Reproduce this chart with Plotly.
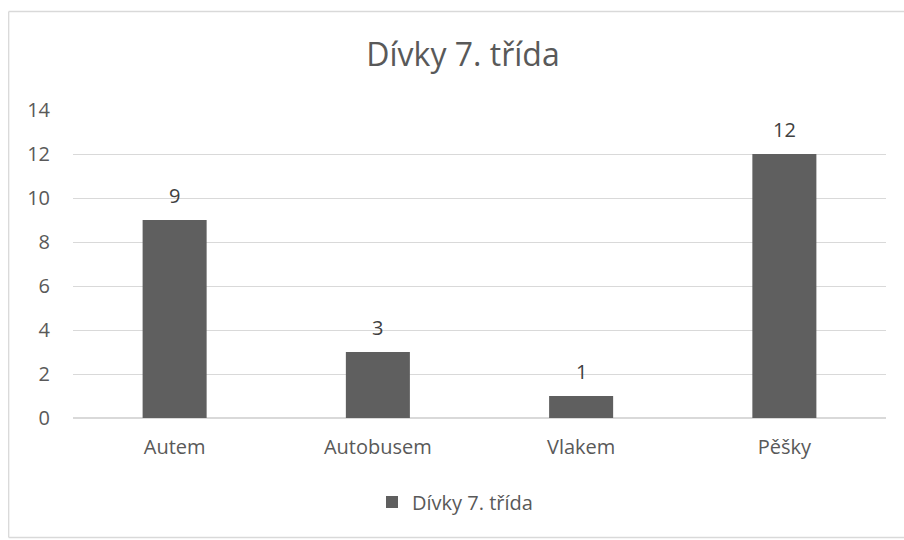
import plotly.graph_objects as go

categories = ["Autem", "Autobusem", "Vlakem", "Pěšky"]
values = [9, 3, 1, 12]
series_name = "Dívky 7. třída"
title_text = "Dívky 7. třída"
y_ticks = [0, 2, 4, 6, 8, 10, 12, 14]

W, H = 904, 540
OFF = 0  # body margin removed via post_script
L, R, T, B = 73 - OFF, W - 886 + OFF, 110 - OFF, H - 418 + OFF
pw, ph = W - L - R, H - T - B

def px_x(x):
    return (x - OFF - L) / pw

def px_y(y):
    return (H - B - (y - OFF)) / ph

FONT = "Open Sans, Noto Sans, sans-serif"
GREY = "#595959"
BAR = "#5f5f5f"
BORDER = "#d9d9d9"

fig = go.Figure()
fig.add_trace(go.Bar(
    x=categories, y=values, name=series_name,
    marker=dict(color=BAR, line=dict(width=0)),
    width=0.315, showlegend=True,
))

annotations = [
    dict(x=c, y=v, xref="x", yref="y", text=str(v), showarrow=False,
         yanchor="middle", yshift=25, font=dict(family=FONT, size=20, color="#404040"))
    for c, v in zip(categories, values)
]

bx0, bx1, by0, by1 = px_x(8.7), px_x(960), px_y(537.5), px_y(11.5)
border_line = dict(color=BORDER, width=1.3)
shapes = [
    dict(type="line", xref="paper", yref="paper", x0=bx0, x1=bx0, y0=by0, y1=by1, line=border_line, layer="below"),
    dict(type="line", xref="paper", yref="paper", x0=bx0, x1=bx1, y0=by1, y1=by1, line=border_line, layer="below"),
    dict(type="line", xref="paper", yref="paper", x0=bx0, x1=bx1, y0=by0, y1=by0, line=border_line, layer="below"),
]

fig.update_layout(
    width=W, height=H,
    margin=dict(l=L, r=R, t=T, b=B, pad=0),
    paper_bgcolor="white", plot_bgcolor="white",
    title=dict(text=title_text, x=px_x(463), xanchor="center", xref="paper",
               y=1 - (55 - OFF) / H, yanchor="middle", yref="container",
               font=dict(family=FONT, size=32, color=GREY)),
    font=dict(family=FONT, size=20, color=GREY),
    xaxis=dict(showgrid=False, showline=False, ticks="", tickfont=dict(size=20, color=GREY),
               ticklabelstandoff=15),
    yaxis=dict(range=[0, 14], tickvals=y_ticks, showgrid=True, gridcolor="#d9d9d9",
               gridwidth=1, zeroline=True, zerolinecolor="#d9d9d9", zerolinewidth=1.5,
               showline=False, ticks="", tickfont=dict(size=20, color=GREY),
               ticklabelstandoff=22),
    legend=dict(orientation="h", x=px_x(372), xanchor="left", y=px_y(502), yanchor="middle",
                font=dict(family=FONT, size=20, color=GREY), itemwidth=30,
                bgcolor="rgba(0,0,0,0)"),
    annotations=annotations,
    shapes=shapes,
)

fig.write_html(
    "out.html",
    config={"displayModeBar": False},
    post_script="document.body.style.margin='0';document.body.style.overflow='hidden';",
)
